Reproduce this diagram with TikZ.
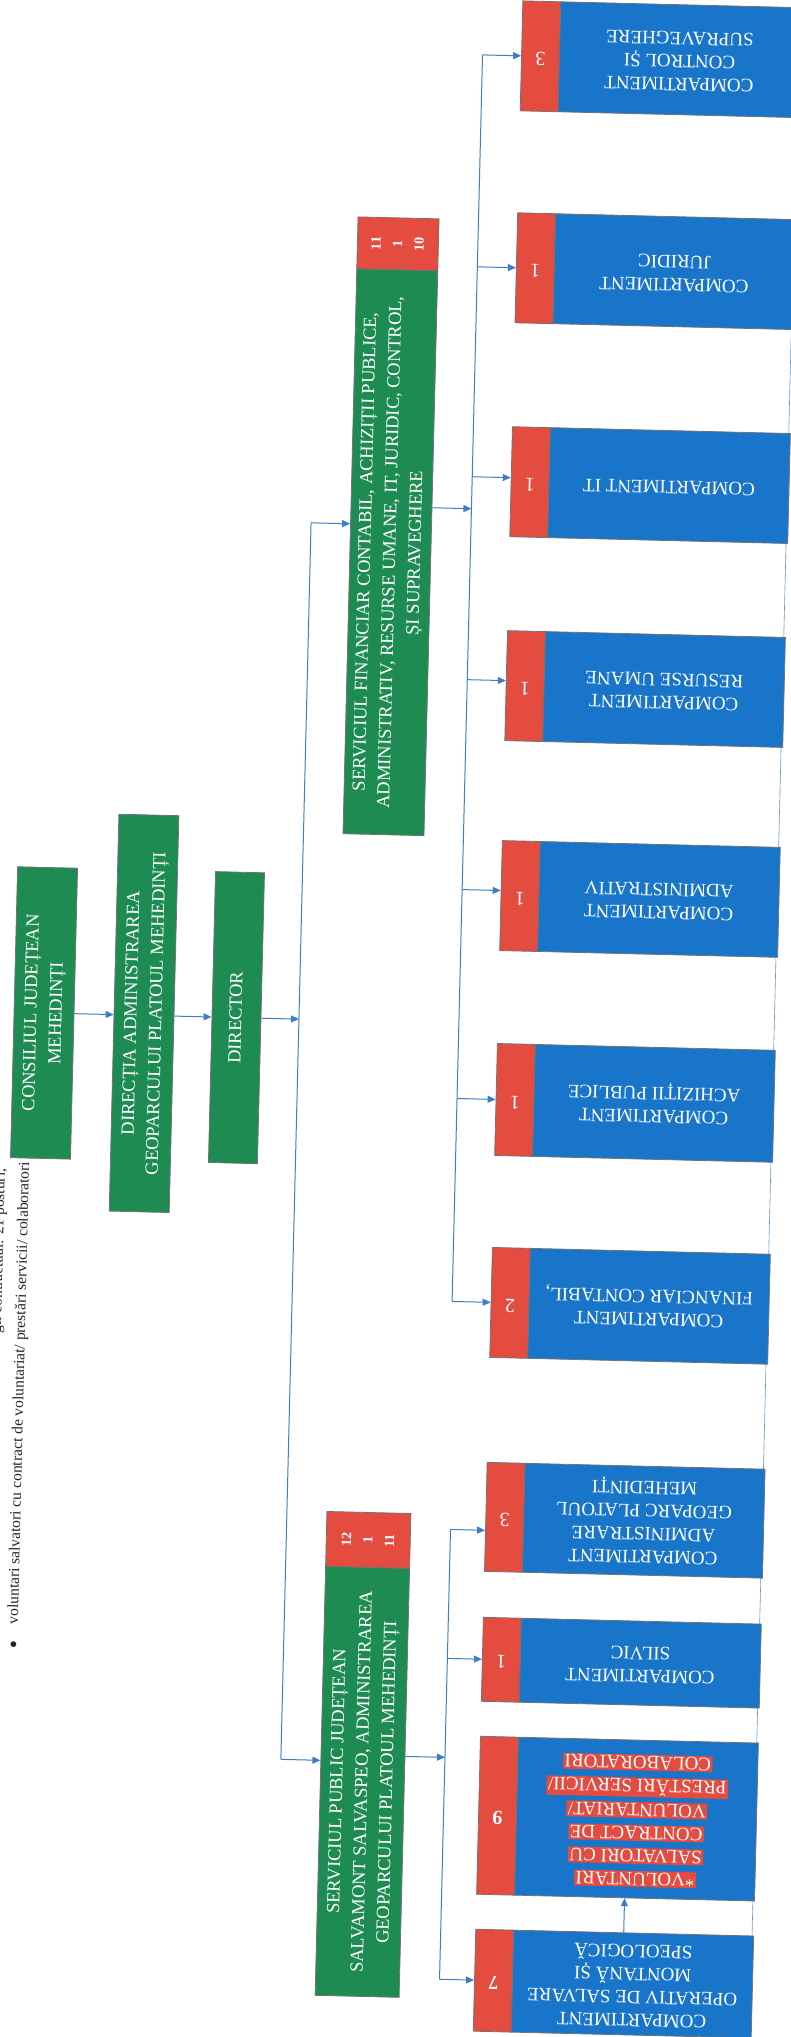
\documentclass[tikz,border=0pt]{standalone}
\usepackage{fontspec}
\setmainfont{Liberation Serif}
\usetikzlibrary{arrows.meta,backgrounds}

\definecolor{gbox}{RGB}{30,140,82}
\definecolor{cbox}{RGB}{24,117,201}
\definecolor{tabred}{RGB}{228,76,64}
\definecolor{lineblue}{RGB}{62,125,200}

% text turned a quarter (green boxes) or a half (blue boxes)
\newcommand{\upright}[1]{\rotatebox[origin=c]{90}{\begin{tabular}{@{}c@{}}#1\end{tabular}}}
\newcommand{\flipped}[1]{\rotatebox[origin=c]{180}{\begin{tabular}{@{}c@{}}#1\end{tabular}}}
\newcommand{\hl}[1]{{\setlength{\fboxsep}{1.5pt}\colorbox{tabred}{#1}}}

\begin{document}
\begin{tikzpicture}[x=1pt,y=-1pt,
    greenbox/.style={draw=black!55, line width=0.8pt, fill=gbox, text=white, inner sep=0pt, font=\fontsize{18.5}{25}\selectfont},
    numtab/.style={draw=black!55, line width=0.8pt, fill=tabred, text=white, inner sep=0pt, font=\bfseries\fontsize{14}{21.5}\selectfont},
    comp/.style={draw=black!55, line width=0.8pt, fill=cbox, text=white, inner sep=0pt, minimum width=240, font=\fontsize{19}{23}\selectfont},
    comptab/.style={draw=black!55, line width=0.8pt, fill=tabred, text=white, inner sep=0pt, minimum width=38, font=\fontsize{20}{20}\selectfont},
    link/.style={draw=lineblue, line width=1pt},
    arr/.style={link, -{Triangle[length=8pt,width=7pt]}},
    sidenote/.style={inner sep=0pt, text=black!85, font=\fontsize{15.5}{17}\selectfont}]

  \begin{pgfonlayer}{background}
    \fill[white] (0,0) rectangle (790,2037);
  \end{pgfonlayer}
  \useasboundingbox (0,0) rectangle (790,2037);

  \begin{scope}[rotate around={-1.4:(395,1018)}, transform shape]

  % Define nodes for the head of the chart
  \node[greenbox, minimum width=60, minimum height=291] (CJ) at (44,1021.5) {\upright{CONSILIUL JUDEȚEAN\\MEHEDINȚI}};
  \node[greenbox, minimum width=60, minimum height=397] (DA) at (144,1019.5) {\upright{DIRECȚIA ADMINISTRAREA\\GEOPARCULUI PLATOUL MEHEDINȚI}};
  \node[greenbox, minimum width=49, minimum height=291] (DIR) at (236.5,1021.5) {\upright{DIRECTOR}};

  % Define nodes for the two services
  \node[numtab, minimum width=81, minimum height=52] (SFn) at (379,244) {\upright{11\\1\\10}};
  \node[greenbox, minimum width=81, minimum height=565] (SF) at (379,552.5) {\upright{SERVICIUL FINANCIAR CONTABIL, ACHIZIȚII PUBLICE,\\ADMINISTRATIV, RESURSE UMANE, IT, JURIDIC, CONTROL,\\ȘI SUPRAVEGHERE}};
  \node[numtab, minimum width=84, minimum height=55] (SSPn) at (381,1540.5) {\upright{12\\1\\11}};
  \node[greenbox, minimum width=84, minimum height=429] (SSP) at (381,1782.5) {\upright{SERVICIUL PUBLIC JUDEȚEAN\\SALVAMONT SALVASPEO, ADMINISTRAREA\\GEOPARCULUI PLATOUL MEHEDINȚI}};

  % Define nodes for the compartments
  \node[comptab, minimum height=110] (tCS) at (517,53) {\flipped{3}};
  \node[comp, minimum height=110] (cCS) at (656,53) {\flipped{COMPARTIMENT\\CONTROL ȘI\\SUPRAVEGHERE}};
  \node[comptab, minimum height=110] (tJU) at (517,265) {\flipped{1}};
  \node[comp, minimum height=110] (cJU) at (656,265) {\flipped{COMPARTIMENT\\JURIDIC}};
  \node[comptab, minimum height=110] (tIT) at (517,479) {\flipped{1}};
  \node[comp, minimum height=110] (cIT) at (656,479) {\flipped{COMPARTIMENT IT}};
  \node[comptab, minimum height=110] (tRU) at (517,683) {\flipped{1}};
  \node[comp, minimum height=110] (cRU) at (656,683) {\flipped{COMPARTIMENT\\RESURSE UMANE}};
  \node[comptab, minimum height=110] (tAD) at (517,893) {\flipped{1}};
  \node[comp, minimum height=110] (cAD) at (656,893) {\flipped{COMPARTIMENT\\ADMINISTRATIV}};
  \node[comptab, minimum height=112] (tAC) at (517,1097) {\flipped{1}};
  \node[comp, minimum height=112] (cAC) at (656,1097) {\flipped{COMPARTIMENT\\ACHIZIȚII PUBLICE}};
  \node[comptab, minimum height=110] (tFC) at (517,1300) {\flipped{2}};
  \node[comp, minimum height=110] (cFC) at (656,1300) {\flipped{COMPARTIMENT\\FINANCIAR CONTABIL,}};

  \node[comptab, minimum height=109] (tGE) at (517,1514.5) {\flipped{3}};
  \node[comp, minimum height=109] (cGE) at (656,1514.5) {\flipped{COMPARTIMENT\\ADMINISTRARE\\GEOPARC PLATOUL\\MEHEDINȚI}};
  \node[comptab, minimum height=84] (tSI) at (517,1657) {\flipped{1}};
  \node[comp, minimum height=84] (cSI) at (656,1657) {\flipped{COMPARTIMENT\\SILVIC}};
  \node[comptab, minimum height=158] (tVO) at (517,1813) {\flipped{\textbf{9}}};
  \node[comp, minimum height=158] (cVO) at (656,1813) {\flipped{\hl{*VOLUNTARI}\\\hl{SALVATORI CU}\\\hl{CONTRACT DE}\\\hl{VOLUNTARIAT/}\\\hl{PRESTĂRI SERVICII/}\\\hl{COLABORATORI}}};
  \node[comptab, minimum height=102] (tOP) at (517,1978) {\flipped{\textbf{7}}};
  \node[comp, minimum height=102] (cOP) at (656,1978) {\flipped{COMPARTIMENT\\OPERATIV DE SALVARE\\MONTANĂ ȘI\\SPEOLOGICĂ}};

  % Notes at the page edge
  \node[sidenote, rotate=90, anchor=east] (posts) at (5,1178) {gii contractual: 21 posturi,};
  \node[sidenote, rotate=90] (vol) at (29,1402) {voluntari salvatori cu contract de voluntariat/ prestări servicii/ colaboratori};
  \node[sidenote, font=\fontsize{24}{24}\selectfont] (bul) at (29,1656) {•};

  % Bus lines
  \coordinate (b1top) at (299,525);
  \coordinate (b1bot) at (299,1762);
  \coordinate (busR) at (459,0);
  \coordinate (bus2) at (463,0);

  % Draw arrows
  \draw[arr] (CJ.east) -- (CJ.east -| DA.west);
  \draw[arr] (DIR.west -| DA.east) -- (DIR.west);
  \draw[arr] (DIR.east) -- (DIR.east -| b1top);
  \draw[link] (b1top) -- (b1bot);
  \draw[arr] (b1top) -- (b1top -| SF.west);
  \draw[arr] (b1bot) -- (b1bot -| SSP.west);

  \draw[arr] ([yshift=45.5pt]SF.east) -- ([yshift=45.5pt]SF.east -| busR);
  \draw[link] (tCS.west -| busR) -- (tFC.west -| busR);
  \draw[arr] (tCS.west -| busR) -- (tCS.west);
  \draw[arr] (tJU.west -| busR) -- (tJU.west);
  \draw[arr] ([yshift=4pt]tIT.west -| busR) -- ([yshift=4pt]tIT.west);
  \draw[arr] ([yshift=5pt]tRU.west -| busR) -- ([yshift=5pt]tRU.west);
  \draw[arr] ([yshift=5pt]tAD.west -| busR) -- ([yshift=5pt]tAD.west);
  \draw[arr] (tAC.west -| busR) -- (tAC.west);
  \draw[arr] (tFC.west -| busR) -- (tFC.west);

  \draw[arr] ([yshift=26.5pt]SSP.east) -- ([yshift=26.5pt]SSP.east -| bus2);
  \draw[link] ([yshift=-13.5pt]tGE.west -| bus2) -- (tOP.west -| bus2);
  \draw[arr] ([yshift=-13.5pt]tGE.west -| bus2) -- ([yshift=-13.5pt]tGE.west);
  \draw[arr] (tSI.west -| bus2) -- (tSI.west);
  \draw[arr] (tOP.west -| bus2) -- (tOP.west);
  \draw[arr] ([xshift=-10pt]cOP.north) -- ([xshift=-10pt]cVO.south);

  \begin{pgfonlayer}{background}
    \draw[lineblue!80, line width=0.6pt] ([xshift=-2pt]cCS.south east) -- ([xshift=-2pt]cOP.north east);
  \end{pgfonlayer}

  \end{scope}
\end{tikzpicture}
\end{document}
